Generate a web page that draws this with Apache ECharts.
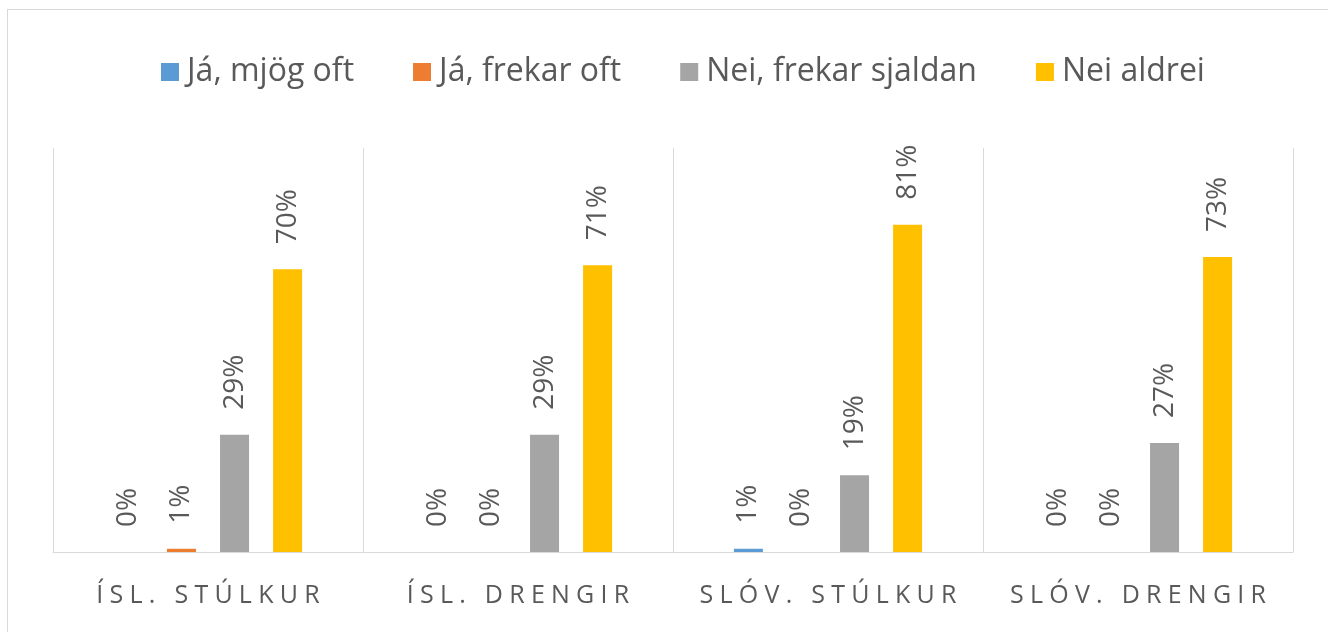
<!DOCTYPE html>
<html>
<head>
<meta charset="utf-8">
<script src="https://cdn.jsdelivr.net/npm/echarts@6/dist/echarts.min.js"></script>
<style>
  html, body { margin: 0; padding: 0; background: #fff; }
  #wrap { position: relative; width: 1328px; height: 632px; }
  #chart { width: 1328px; height: 632px; }
  #frame {
    position: absolute; left: 7px; top: 9px; width: 1321px; height: 623px;
    border-left: 1px solid #d9d9d9; border-top: 1px solid #d9d9d9;
    pointer-events: none; box-sizing: border-box;
  }
</style>
</head>
<body>
<div id="wrap">
  <div id="chart"></div>
  <div id="frame"></div>
</div>
<script>
// categories and series
const categories = ['ÍSL. STÚLKUR', 'ÍSL. DRENGIR', 'SLÓV. STÚLKUR', 'SLÓV. DRENGIR'];
const seriesNames = ['Já, mjög oft', 'Já, frekar oft', 'Nei, frekar sjaldan', 'Nei aldrei'];
const mjogOft = [0, 0, 0.8, 0];
const frekarOft = [0.8, 0, 0, 0];
const frekarSjaldan = [29, 29, 19, 27];
const aldrei = [70, 71, 81, 73];

const colors = ['#5b9bd5', '#ed7d31', '#a5a5a5', '#ffc000'];
const textColor = '#595959';
const font = '"Open Sans", sans-serif';

// spread the axis label letters out like the original
const spaced = (s) => s.split('').join('\u2005');

const chart = echarts.init(document.getElementById('chart'));

const makeSeries = (name, data, i) => ({
  name: name,
  type: 'bar',
  data: data,
  barWidth: 29,
  barGap: '83%',
  itemStyle: { color: colors[i] },
  label: {
    show: true,
    position: 'top',
    rotate: 90,
    align: 'left',
    verticalAlign: 'middle',
    distance: 25,
    color: textColor,
    fontFamily: font,
    fontSize: 28,
    formatter: (p) => Math.round(p.value) + '%',
  },
});

const option = {
  animation: false,
  color: colors,
  legend: {
    top: 51,
    left: 156,
    itemWidth: 18,
    itemHeight: 18,
    itemGap: 59,
    icon: 'rect',
    textStyle: { color: textColor, fontFamily: font, fontSize: 32, padding: [0, 0, 0, 3] },
    data: seriesNames,
  },
  grid: {
    left: 53,
    right: 35,
    top: 148,
    bottom: 80,
    containLabel: false,
  },
  xAxis: {
    type: 'category',
    data: categories,
    boundaryGap: true,
    axisLine: { lineStyle: { color: '#d9d9d9', width: 1 } },
    axisTick: { show: false },
    splitLine: { show: true, interval: 0, lineStyle: { color: '#d9d9d9', width: 1 } },
    axisLabel: {
      interval: 0,
      color: textColor,
      fontFamily: font,
      fontSize: 25,
      margin: 31,
      formatter: spaced,
    },
  },
  yAxis: {
    type: 'value',
    min: 0,
    max: 100,
    show: false,
    splitLine: { show: false },
  },
  series: [
    makeSeries(seriesNames[0], mjogOft, 0),
    makeSeries(seriesNames[1], frekarOft, 1),
    makeSeries(seriesNames[2], frekarSjaldan, 2),
    makeSeries(seriesNames[3], aldrei, 3),
  ],
};

chart.setOption(option);
</script>
</body>
</html>
